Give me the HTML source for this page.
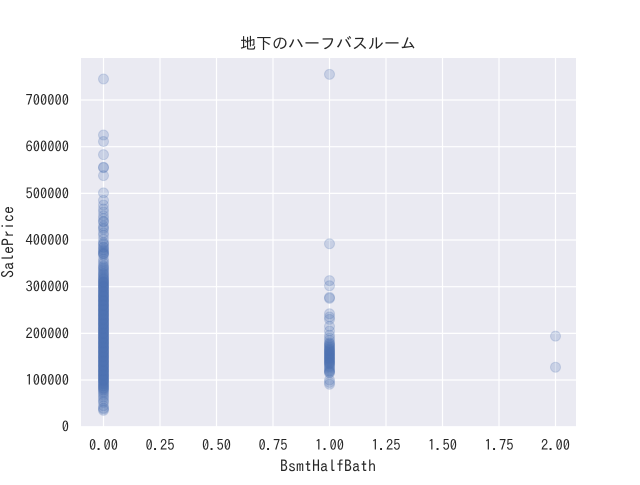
<!DOCTYPE html>
<html><head><meta charset="utf-8"><style>
body{margin:0;background:#fff;}
svg text{font-family:"IPAGothic","Noto Sans CJK JP",monospace;fill:#262626;}
</style></head><body>
<svg id="chart" width="640" height="480" viewBox="0 0 640 480" xmlns="http://www.w3.org/2000/svg">
<rect x="81" y="58" width="495" height="369" fill="#eaeaf2"/>
<g id="grid"></g>
<g id="points"></g>
<g id="ticks"></g>
<text x="328" y="49" text-anchor="middle" font-size="16">地下のハーフバスルーム</text>
<text x="328" y="472" text-anchor="middle" font-size="16">BsmtHalfBath</text>
<text transform="translate(14,242) rotate(-90)" text-anchor="middle" font-size="16">SalePrice</text>
</svg>
<script>
const xTicks=[0,0.25,0.5,0.75,1,1.25,1.5,1.75,2];
const xTickLabels=["0.00","0.25","0.50","0.75","1.00","1.25","1.50","1.75","2.00"];
const yTicks=[0,100000,200000,300000,400000,500000,600000,700000];
const yTickLabels=["0","100000","200000","300000","400000","500000","600000","700000"];
const prices0=[745000,625000,611000,582900,556000,555000,538000,501000,485000,475000,466500,460000,451950,446000,440000,438780,430000,426000,423000,415298,410000,402000,395000,392500,390000,385000,383970,380000,377500,375000,372500,370878,369900,367294,359100,354000,350000,345000,342643,340000,337500,335000,332000,328900,325000,320000,318000,315000,312500,310000,307000,305000,302000,300000,298000,295000,293000,290000,287000,285000,282000,280000,277000,275000,272000,270000,267000,265000,262000,260000,257000,255000,252000,250000,248000,245000,242000,240000,238000,235000,232000,230000,228000,225000,222000,220000,218000,215000,212000,210000,208000,205000,202000,200000,198000,195000,192000,190000,188000,185000,182000,180000,178000,175000,172000,170000,168000,165000,162000,160000,158000,155000,152000,150000,148000,145000,142000,140000,138000,135000,132000,130000,128000,125000,122000,120000,118000,115000,112000,110000,108000,105000,102000,100000,98000,95000,92000,90000,88000,85000,82000,80000,78000,75000,72000,68000,64000,60000,55000,52000,45000,40000,37900,35000,
327000,322000,316000,309000,303000,296000,289000,283000,278000,273000,268000,263000,258000,253000,247000,243000,237000,233000,227000,223000,217000,213000,207000,203000,197000,193000,187000,183000,177000,173000,167000,163000,157000,153000,147000,143000,137000,133000,127000,123000,117000,113000,107000,103000,97000,93000,87000,83000,
310000,290000,270000,250000,230000,210000,190000,170000,150000,130000,110000,300000,280000,260000,240000,220000,200000,180000,160000,140000,120000,100000];
const prices1=[755000,392000,313000,302000,277000,275000,242000,235000,230000,215000,205000,196000,190000,185000,180000,176000,172000,168000,165000,162000,160000,157000,155000,152000,150000,147000,145000,142000,140000,137000,135000,130000,125000,120000,118000,115000,100000,95000,91000,
178000,174000,170000,166000,163000,159000,156000,153000,149000,146000,143000,139000,136000,133000,128000,122000,117000];
const prices2=[194000,127500];
const ns="http://www.w3.org/2000/svg";
const L=81,R=576,T=58,B=427;
const xS=v=>103.5+v*226;
const yS=v=>426.7-v*326.7/700000;
const grid=document.getElementById('grid'),ticks=document.getElementById('ticks'),pts=document.getElementById('points');
xTicks.forEach((t,i)=>{
 const l=document.createElementNS(ns,'line');
 
 
 l.setAttribute('x1',xS(t));l.setAttribute('x2',xS(t));l.setAttribute('y1',T);l.setAttribute('y2',B);
 l.setAttribute('stroke','#fff');l.setAttribute('stroke-width','1.2');grid.appendChild(l);
 const tx=document.createElementNS(ns,'text');
 
 
 tx.setAttribute('x',xS(t));tx.setAttribute('y',450);tx.setAttribute('text-anchor','middle');tx.setAttribute('font-size','14.5');
 tx.textContent=xTickLabels[i];ticks.appendChild(tx);
});
yTicks.forEach((t,i)=>{
 const l=document.createElementNS(ns,'line');
 
 
 l.setAttribute('x1',L);l.setAttribute('x2',R);l.setAttribute('y1',yS(t));l.setAttribute('y2',yS(t));
 l.setAttribute('stroke','#fff');l.setAttribute('stroke-width','1.2');grid.appendChild(l);
 const tx=document.createElementNS(ns,'text');
 
 
 tx.setAttribute('x',69);tx.setAttribute('y',yS(t)+5);tx.setAttribute('text-anchor','end');tx.setAttribute('font-size','14.5');
 tx.textContent=yTickLabels[i];ticks.appendChild(tx);
});
function draw(x,arr){arr.forEach(v=>{
 const c=document.createElementNS(ns,'circle');
 
 
 c.setAttribute('cx',xS(x));c.setAttribute('cy',yS(v));c.setAttribute('r',5);
 c.setAttribute('fill','#4c72b0');c.setAttribute('fill-opacity','0.22');
 c.setAttribute('stroke','#4c72b0');c.setAttribute('stroke-opacity','0.22');
 pts.appendChild(c);});}
draw(0,prices0);draw(1,prices1);draw(2,prices2);
</script>
</body></html>
